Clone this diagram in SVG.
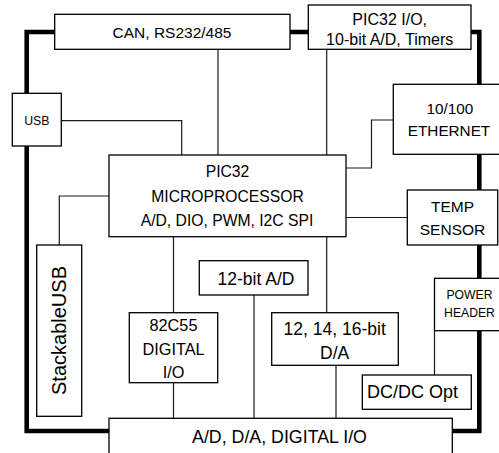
<svg xmlns="http://www.w3.org/2000/svg" width="499" height="453" viewBox="0 0 499 453">
<style>
.box{fill:#fff;stroke:#000;stroke-width:1.3}
.ln{fill:none;stroke:#1a1a1a;stroke-width:1.2}
.thick{fill:none;stroke:#000;stroke-width:4.6;stroke-linejoin:miter}
text{font-family:"Liberation Sans",Arial,sans-serif;fill:#000;text-anchor:middle}
</style>
<rect width="499" height="453" fill="#fff"/>
<g id="connectors">
<path class="thick" d="M26.7,32 H479.3 V431 H26.7 Z"/>
<path class="ln" d="M61.3,120.7 H181.7 V155"/>
<path class="ln" d="M218,49.3 V155"/>
<path class="ln" d="M326.7,49.3 V155"/>
<path class="ln" d="M393.3,120 H371.5 V168 H346"/>
<path class="ln" d="M346,217.5 H407.3"/>
<path class="ln" d="M109,196 H59.3 V245"/>
<path class="ln" d="M173.5,236.7 V312.7"/>
<path class="ln" d="M326.7,236.7 V312.7"/>
<path class="ln" d="M173.5,382.7 V418.3"/>
<path class="ln" d="M254,295 V418.3"/>
<path class="ln" d="M336,365.3 V418.3"/>
<path class="ln" d="M434.5,330.7 V375"/>
</g>
<g id="can">
<rect class="box" x="54.7" y="14.3" width="235.3" height="35"/>
<text x="172" y="37.5" font-size="15.5">CAN, RS232/485</text>
</g>
<g id="pic32io">
<rect class="box" x="308.3" y="5" width="162.7" height="44.3"/>
<text x="389.7" y="24.7" font-size="16">PIC32 I/O,</text>
<text x="389.7" y="44.7" font-size="16">10-bit A/D, Timers</text>
</g>
<g id="usb">
<rect class="box" x="12.3" y="93.3" width="49" height="52.7"/>
<text x="36.8" y="125" font-size="12.3">USB</text>
</g>
<g id="ethernet">
<rect class="box" x="393.3" y="84.3" width="112" height="70"/>
<text x="450" y="113.8" font-size="15.3">10/100</text>
<text x="449" y="135.5" font-size="15.3">ETHERNET</text>
</g>
<g id="micro">
<rect class="box" x="109" y="155" width="237" height="81.7"/>
<text x="227.5" y="177.3" font-size="15.7">PIC32</text>
<text x="227.5" y="202.3" font-size="15.7">MICROPROCESSOR</text>
<text x="227" y="225.6" font-size="15.7">A/D, DIO, PWM, I2C SPI</text>
</g>
<g id="temp">
<rect class="box" x="407.3" y="190" width="90.4" height="55"/>
<text x="452.5" y="212.2" font-size="15.5">TEMP</text>
<text x="452.5" y="234.5" font-size="15.5">SENSOR</text>
</g>
<g id="stackableusb">
<rect class="box" x="36.7" y="245" width="45" height="171.3"/>
<text transform="translate(66,330.5) rotate(-90)" x="0" y="0" font-size="20">StackableUSB</text>
</g>
<g id="adc12">
<rect class="box" x="199.3" y="260.7" width="108.7" height="34.3"/>
<text x="256" y="284.5" font-size="17.5">12-bit A/D</text>
</g>
<g id="power">
<rect class="box" x="434.5" y="278.3" width="70" height="52.4"/>
<text x="469.5" y="298.6" font-size="12.2">POWER</text>
<text x="469.5" y="317" font-size="12.2">HEADER</text>
</g>
<g id="dio82c55">
<rect class="box" x="129.3" y="312.7" width="88.4" height="70"/>
<text x="173.5" y="330.8" font-size="16.3">82C55</text>
<text x="173.5" y="354.8" font-size="16.3">DIGITAL</text>
<text x="173.5" y="377.5" font-size="16.3">I/O</text>
</g>
<g id="dac">
<rect class="box" x="271.7" y="312.7" width="126.6" height="52.6"/>
<text x="334.7" y="334.5" font-size="17.5">12, 14, 16-bit</text>
<text x="334.7" y="358.5" font-size="17.5">D/A</text>
</g>
<g id="dcdc">
<rect class="box" x="362.3" y="375" width="109" height="34.3"/>
<text x="412.5" y="398" font-size="18">DC/DC Opt</text>
</g>
<g id="bottom">
<rect class="box" x="109" y="418.3" width="343.3" height="45"/>
<text x="279.5" y="443" font-size="17.8">A/D, D/A, DIGITAL I/O</text>
</g>
</svg>
